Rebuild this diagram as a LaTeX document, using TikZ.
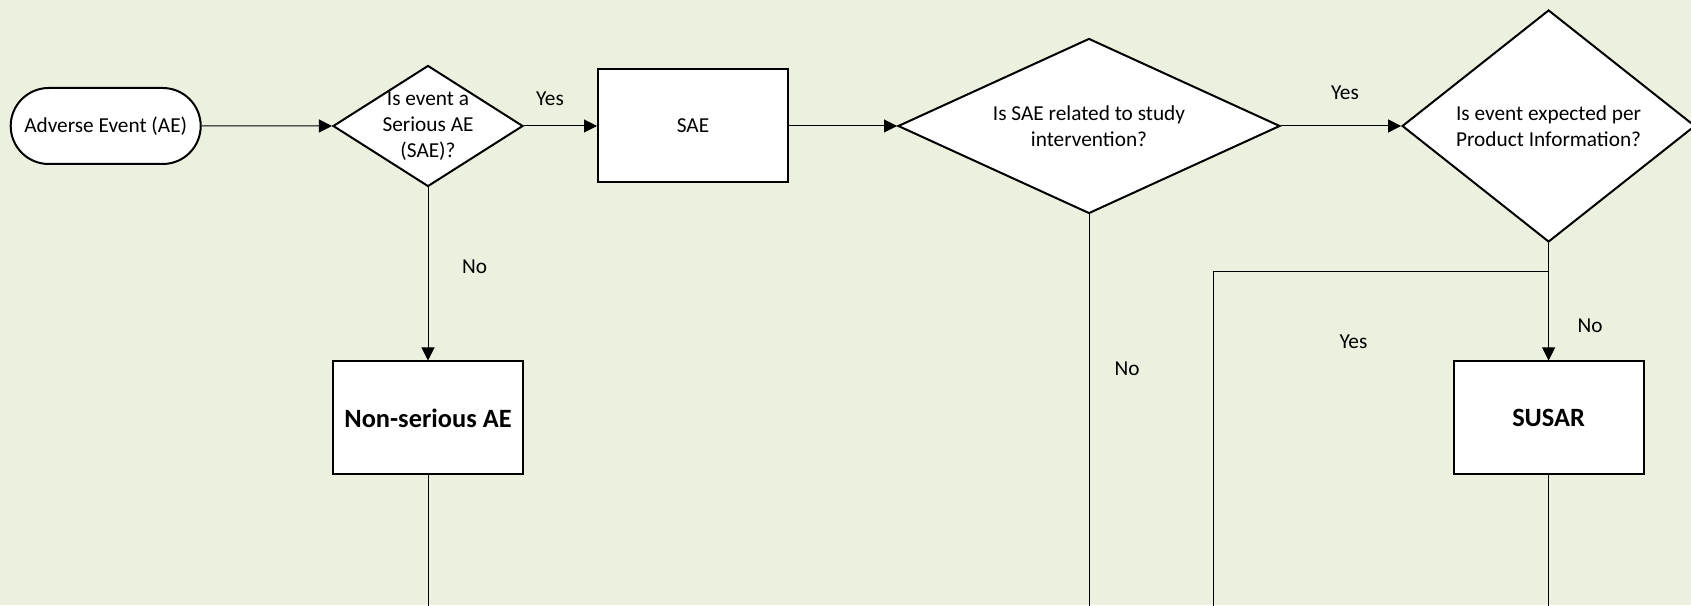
\documentclass[tikz,border=0pt]{standalone}
\usepackage{fontspec}
\setmainfont{Carlito}
\usetikzlibrary{arrows.meta}
\usetikzlibrary{shapes.geometric,shapes.misc}
\usepackage{xcolor}
\definecolor{sheetGreen}{RGB}{235,241,222}

\begin{document}
\begin{tikzpicture}[x=1pt, y=1pt,
    every node/.style={font=\fontsize{21.3}{26}\selectfont},
    box/.style={draw, line width=2pt, fill=white, minimum width=190pt, minimum height=113pt, inner sep=0pt},
    decision/.style={draw, line width=2pt, fill=white, diamond, inner sep=0pt},
    terminal/.style={draw, line width=2pt, fill=white, rounded rectangle, minimum width=190pt, minimum height=76pt, inner sep=0pt},
    flow/.style={line width=1pt, -{Triangle[length=13pt, width=13pt]}},
    link/.style={line width=1pt},
    txt/.style={align=center},
    bigtxt/.style={font=\fontsize{26.4}{32}\selectfont\bfseries}]

        % sheet
        \useasboundingbox (0,0) rectangle (1691,605);
        \fill[sheetGreen] (0,0) rectangle (1691,605);

        % top row
        \node[terminal] (ae) at (105.7,479) {Adverse Event (AE)};
        \node[decision, minimum width=190pt, minimum height=121pt,
            label={[txt]center:{Is event a\\Serious AE\\(SAE)?}}] (serious) at (428,479) {};
        \node[box] (sae) at (693,479) {SAE};
        \node[decision, minimum width=382pt, minimum height=175pt,
            label={[txt]center:{Is SAE related to study\\intervention?}}] (related) at (1089,479) {};
        \node[decision, minimum width=293pt, minimum height=232pt,
            label={[txt]center:{Is event expected per\\Product Information?}}] (expected) at (1548.6,479) {};

        % second row
        \node[box, bigtxt] (nonserious) at (428,187) {Non-serious AE};
        \node[box, bigtxt] (susar) at (1548.6,187) {SUSAR};

        % bends and loose ends
        \coordinate (bendA) at (1548.6,333.5);
        \coordinate (bendB) at (1213,333.5);
        \coordinate (endNonserious) at (428,-5);
        \coordinate (endRelated) at (1089,-5);
        \coordinate (endExpected) at (1213,-5);
        \coordinate (endSusar) at (1548.6,-5);

        % arrows
        \draw[flow] (ae) -- (serious);
        \draw[flow] (serious) -- (sae);
        \draw[flow] (sae) -- (related);
        \draw[flow] (related) -- (expected);
        \draw[flow] (serious) -- (nonserious);
        \draw[flow] (expected) -- (susar);

        % lines running off the page
        \draw[link] (expected.south) -- (bendA) -- (bendB) -- (endExpected);
        \draw[link] (related.south) -- (endRelated);
        \draw[link] (nonserious.south) -- (endNonserious);
        \draw[link] (susar.south) -- (endSusar);

        % answers
        \node (yesSerious) at (550,506) {Yes};
        \node (noSerious) at (474.5,338) {No};
        \node (yesRelated) at (1345,512) {Yes};
        \node (noRelated) at (1127,236) {No};
        \node (yesExpected) at (1353.5,263) {Yes};
        \node (noExpected) at (1590,279) {No};

    \end{tikzpicture}
\end{document}
